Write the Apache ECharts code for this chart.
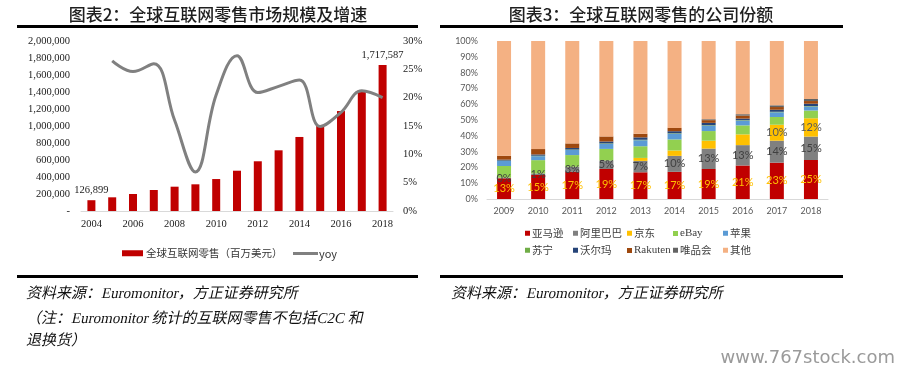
<!DOCTYPE html>
<html>
<head>
<meta charset="utf-8">
<script src="https://cdn.jsdelivr.net/npm/echarts@6/dist/echarts.min.js"></script>
<style>
html,body{margin:0;padding:0;background:#fff;}
#c{width:908px;height:376px;}
</style>
</head>
<body>
<div id="c"></div>
<script>
// ---- Chart 2 data: global internet retail market size & growth ----
const yearsL = ['2004','2005','2006','2007','2008','2009','2010','2011','2012','2013','2014','2015','2016','2017','2018'];
const retailSales = [126899, 161000, 200000, 247000, 286000, 314000, 376000, 474000, 585000, 714000, 871000, 1008000, 1176000, 1424000, 1717587];
const yoyPct = [null, 26.5, 24.6, 26.0, 16.0, 6.9, 20.5, 27.4, 20.9, 22.0, 23.1, 14.9, 17.4, 21.2, 20.0];
const leftTicks = [0, 2000000, 200000];   // min, max, interval
const rightTicks = [0, 30, 5];

// ---- Chart 3 data: company share of global internet retail ----
const yearsR = ['2009','2010','2011','2012','2013','2014','2015','2016','2017','2018'];
const amazon  = [13.1, 15.2, 17.2, 19.0, 16.9, 17.2, 19.0, 21.2, 23.0, 24.7];
const alibaba = [0.4, 1.0, 3.2, 5.4, 7.2, 10.1, 12.9, 12.9, 13.9, 14.8];
const jd      = [0, 0, 0, 0, 1.9, 3.4, 5.0, 6.8, 10.1, 11.6];
const ebay    = [7.4, 8.4, 7.4, 7.3, 7.4, 7.0, 6.1, 5.7, 4.9, 4.9];
const apple   = [3.2, 2.5, 3.2, 3.2, 3.8, 3.6, 3.4, 3.0, 3.0, 2.5];
const suning  = [0.2, 0.3, 0.3, 0.3, 0.3, 0.3, 0.3, 0.3, 0.3, 0.3];
const walmart = [0.6, 0.8, 1.0, 1.2, 1.5, 1.3, 1.5, 1.0, 1.3, 1.5];
const rakuten = [2.5, 3.4, 2.9, 3.2, 2.3, 2.1, 1.7, 1.9, 1.7, 1.7];
const vip     = [0, 0, 0, 0, 0, 0, 0.6, 0.9, 1.1, 1.3];
const others  = [72.6, 68.4, 64.8, 60.4, 58.7, 55.0, 49.5, 46.3, 40.7, 36.7];
const shareNames = ['亚马逊','阿里巴巴','京东','eBay','苹果','苏宁','沃尔玛','Rakuten','唯品会','其他'];
const shareData = [amazon, alibaba, jd, ebay, apple, suning, walmart, rakuten, vip, others];

const shareColors = ['#C00000','#808080','#FFC000','#92D050','#5B9BD5','#70AD47','#264478','#9E480E','#636363','#F4B183'];
const SERIF = '"Liberation Serif","Times New Roman",serif';
const SANS = '"Noto Sans CJK SC","Noto Sans",sans-serif';
const NUM = 'Lato,"Noto Sans",sans-serif';
const NOTE = '"Liberation Serif","Noto Sans CJK SC",serif';

const chart = echarts.init(document.getElementById('c'));

const fmtThousands = v => Math.round(v).toLocaleString('en-US');

// label settings for the yoy line
const yoyLabels = {
  5: {show:true, position:'top', distance:4},
  7: {show:true, position:'right', distance:6, offset:[0,0]},
  14: {show:true, position:'right', distance:4, offset:[2,-10]}
};
const yoyItems = yoyPct.map((v,i) => yoyLabels[i] ? {value:v, label:yoyLabels[i]} : v);
const salesItems = retailSales.map((v,i) => (i===0 || i===retailSales.length-1) ? {value:v, label:{show:true}} : v);

// legends for chart 3, laid out in a 5x2 grid
const legCols = [525, 573, 627, 673, 723];
const legRows = [228, 245];
const shareLegends = shareNames.map((n,i) => ({
  data:[n], left: legCols[i%5], top: legRows[Math.floor(i/5)], padding:0, itemGap:0,
  itemWidth:5, itemHeight:5, icon:'rect',
  textStyle:{fontSize:(n==='eBay'||n==='Rakuten')?11:10.5, color:'#404040',
    fontFamily:(n==='eBay'||n==='Rakuten')?SERIF:SANS, padding:[0,0,0,-3]}
}));

const shareSeries = shareNames.map((n,i) => {
  const s = {
    name:n, type:'bar', stack:'share', xAxisIndex:1, yAxisIndex:2, barWidth:14,
    itemStyle:{color:shareColors[i]}, data:shareData[i]
  };
  if (i===0) s.label = {show:true, position:'inside', color:'#FFC000', fontSize:11, fontFamily:NUM,
    formatter:p=>Math.round(p.value)+'%'};
  if (i===1) s.label = {show:true, position:'inside', color:'#404040', fontSize:11, fontFamily:NUM,
    formatter:p=>Math.round(p.value)+'%'};
  if (i===2) s.label = {show:true, position:'inside', color:'#595959', fontSize:11, fontFamily:NUM,
    formatter:p=>p.value>=10?Math.round(p.value)+'%':''};
  return s;
});

const noteText = (t, x, y) => ({type:'text', x:x, y:y, skewX:-0.22,
  style:{text:t, align:'left', verticalAlign:'middle', fontSize:15, fontFamily:NOTE, fill:'#111'}});

const option = {
  animation:false,
  backgroundColor:'#ffffff',
  textStyle:{fontFamily:SANS},
  grid:[
    {left:81, top:41, width:312, height:170},
    {left:487, top:41, width:341, height:158}
  ],
  xAxis:[
    {type:'category', gridIndex:0, data:yearsL,
     axisLine:{lineStyle:{color:'#D9D9D9', width:1}}, axisTick:{show:false},
     axisLabel:{interval:1, color:'#222', fontSize:10.5, fontFamily:SERIF, margin:8}},
    {type:'category', gridIndex:1, data:yearsR,
     axisLine:{lineStyle:{color:'#D9D9D9', width:1}}, axisTick:{show:false},
     axisLabel:{color:'#595959', fontSize:9, fontFamily:NUM, margin:8}}
  ],
  yAxis:[
    {type:'value', gridIndex:0, min:leftTicks[0], max:leftTicks[1], interval:leftTicks[2],
     splitLine:{show:false}, axisLine:{show:false}, axisTick:{show:false},
     axisLabel:{color:'#222', fontSize:10.5, fontFamily:SERIF, margin:11,
       formatter:v=> v===0 ? '-' : fmtThousands(v)}},
    {type:'value', gridIndex:0, position:'right', min:rightTicks[0], max:rightTicks[1], interval:rightTicks[2],
     splitLine:{show:false}, axisLine:{show:false}, axisTick:{show:false},
     axisLabel:{color:'#222', fontSize:10.5, fontFamily:SERIF, margin:10, formatter:'{value}%'}},
    {type:'value', gridIndex:1, min:0, max:100, interval:10,
     splitLine:{show:false}, axisLine:{show:false}, axisTick:{show:false},
     axisLabel:{color:'#595959', fontSize:9, fontFamily:NUM, margin:9, formatter:'{value}%'}}
  ],
  legend:[
    {data:[{name:'全球互联网零售（百万美元）', icon:'rect'}], left:122, top:248, padding:0,
     itemWidth:21, itemHeight:6, textStyle:{fontSize:10.5, color:'#333', fontFamily:SANS, padding:[0,0,0,-2]}},
    {data:[{name:'yoy', icon:'rect'}], left:293, top:248, padding:0,
     itemWidth:25, itemHeight:3, textStyle:{fontSize:11, color:'#333', fontFamily:SANS, padding:[0,0,0,-4]}}
  ].concat(shareLegends),
  series:[
    {name:'全球互联网零售（百万美元）', type:'bar', xAxisIndex:0, yAxisIndex:0, barWidth:8,
     itemStyle:{color:'#C00000'}, data:salesItems,
     label:{show:false, position:'top', distance:4, color:'#222', fontSize:10.5, fontFamily:SERIF,
       formatter:p=>fmtThousands(p.value)}},
    {name:'yoy', type:'line', xAxisIndex:0, yAxisIndex:1, smooth:0.4, symbol:'none', showSymbol:false,
     connectNulls:false, lineStyle:{color:'#808080', width:3}, itemStyle:{color:'#808080'},
     data:yoyItems,
     label:{show:false, color:'#222', fontSize:10.5, fontFamily:SERIF, formatter:p=>Math.round(p.value)+'%'}}
  ].concat(shareSeries),
  graphic:[
    {type:'text', x:218, y:15, style:{text:'图表2：全球互联网零售市场规模及增速', align:'center', verticalAlign:'middle',
      fontSize:17, fontWeight:500, fontFamily:SANS, fill:'#1e1e1e'}},
    {type:'text', x:641, y:15, style:{text:'图表3：全球互联网零售的公司份额', align:'center', verticalAlign:'middle',
      fontSize:17, fontWeight:500, fontFamily:SANS, fill:'#1e1e1e'}},
    {type:'rect', shape:{x:17, y:25, width:401, height:3}, style:{fill:'#000'}},
    {type:'rect', shape:{x:440, y:25, width:403, height:3}, style:{fill:'#000'}},
    {type:'rect', shape:{x:17, y:275, width:401, height:3}, style:{fill:'#000'}},
    {type:'rect', shape:{x:440, y:275, width:403, height:3}, style:{fill:'#000'}},
    noteText('资料来源：Euromonitor，方正证券研究所', 27, 294),
    noteText('（注：Euromonitor 统计的互联网零售不包括C2C 和', 27, 319),
    noteText('退换货）', 27, 341),
    noteText('资料来源：Euromonitor，方正证券研究所', 452, 294),
    {type:'text', x:895, y:358, style:{text:'www.767stock.com', align:'right', verticalAlign:'middle',
      fontSize:18, fontFamily:'"DejaVu Sans",sans-serif', fill:'#9a9a9a'}}
  ]
};
chart.setOption(option);
</script>
</body>
</html>
